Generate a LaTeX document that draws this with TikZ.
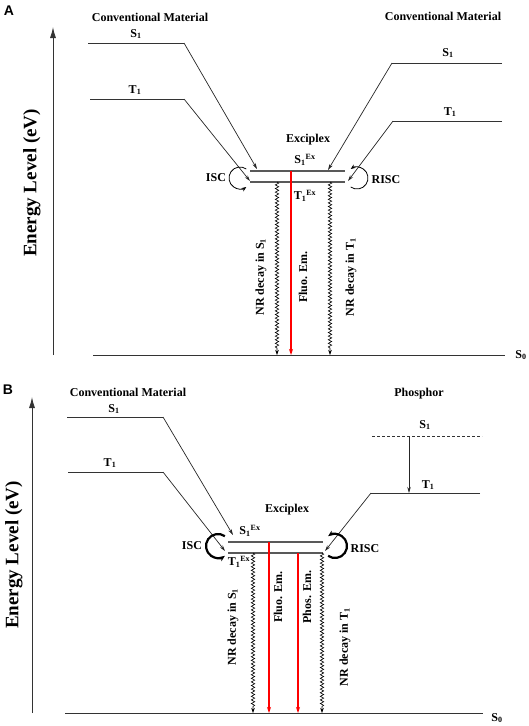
\documentclass[tikz,border=0pt]{standalone}
\usepackage{fontspec}
\setmainfont{Liberation Serif}
\newfontfamily\panelfont{Liberation Sans}
\usetikzlibrary{arrows.meta,decorations.pathmorphing}

\begin{document}
\begin{tikzpicture}[x=1pt,y=-1pt,
  level/.style={draw=black!80,line width=0.8pt},
  trans/.style={draw=black!85,line width=0.7pt,-{Stealth[length=6pt,width=3.5pt]}},
  bar/.style={draw=black!65,line width=1.4pt},
  loopthin/.style={line width=0.8pt,-{Stealth[length=5pt,width=4pt]}},
  loopthick/.style={line width=2.2pt,-{Stealth[length=6pt,width=5pt]}},
  nrdecay/.style={line width=0.6pt,-{Stealth[length=5pt,width=3.5pt]},decorate,
    decoration={snake,amplitude=1.7pt,segment length=3.6pt,post length=6pt}},
  emit/.style={red,line width=1.2pt,-{Stealth[length=6pt,width=4pt]}},
  axis/.style={draw=black!80,line width=0.9pt,-{Latex[length=11pt,width=6pt]}},
  lab/.style={font=\fontsize{12}{14}\selectfont\bfseries,inner sep=0pt},
  vlab/.style={lab,rotate=90},
  ylab/.style={font=\fontsize{19}{22}\selectfont\bfseries,rotate=90,inner sep=0pt},
  panel/.style={font=\panelfont\fontsize{14}{16}\selectfont\bfseries,inner sep=0pt}]
\useasboundingbox (0,0) rectangle (529,726);

% ---- panel A ----
\node[panel] (tagA) at (9,11) {A};
\node[lab] (convAl) at (150,17) {Conventional Material};
\node[lab] (convAr) at (443,16) {Conventional Material};
\node[ylab] (yA) at (32,183) {Energy Level (eV)};
\path (53,355) coordinate (axA0) (53,27) coordinate (axA1);
\draw[axis] (axA0) -- (axA1);
\path (93,355) coordinate (gsA0) (505,355) coordinate (gsA1);
\draw[level] (gsA0) -- (gsA1);
\node[lab] (gsAlab) at (521,355) {S\textsubscript{0}};

% left material
\path (88,43) coordinate (sAl0) (184,43) coordinate (sAl1) (257,169) coordinate (sAl2);
\path (90,99) coordinate (tAl0) (184,99) coordinate (tAl1) (250,181) coordinate (tAl2);
\draw[level] (sAl0) -- (sAl1);
\draw[trans] (sAl1) -- (sAl2);
\draw[level] (tAl0) -- (tAl1);
\draw[trans] (tAl1) -- (tAl2);
\node[lab] (sAllab) at (136,34) {S\textsubscript{1}};
\node[lab] (tAllab) at (135,90) {T\textsubscript{1}};

% right material
\path (502,63) coordinate (sAr0) (392,63) coordinate (sAr1) (328,170) coordinate (sAr2);
\path (502,121) coordinate (tAr0) (393,121) coordinate (tAr1) (348,181) coordinate (tAr2);
\draw[level] (sAr0) -- (sAr1);
\draw[trans] (sAr1) -- (sAr2);
\draw[level] (tAr0) -- (tAr1);
\draw[trans] (tAr1) -- (tAr2);
\node[lab] (sArlab) at (448,53) {S\textsubscript{1}};
\node[lab] (tArlab) at (450,112) {T\textsubscript{1}};

% exciplex
\path (250,171) coordinate (exAs0) (345,171) coordinate (exAs1);
\path (250,182) coordinate (exAt0) (345,182) coordinate (exAt1);
\draw[bar] (exAs0) -- (exAs1);
\draw[bar] (exAt0) -- (exAt1);
\node[lab] (exAlab) at (308,140) {Exciplex};
\node[lab] (exAslab) at (305,160) {S\textsubscript{1}\textsuperscript{Ex}};
\node[lab] (exAtlab) at (305,196) {T\textsubscript{1}\textsuperscript{Ex}};
\coordinate (iscA) at (240,178);
\coordinate (riscA) at (357,178);
\draw[loopthin] (iscA) ++(-55:11) arc[start angle=-55,end angle=-305,radius=11];
\draw[loopthin] (riscA) ++(-235:11) arc[start angle=-235,end angle=-485,radius=11];
\node[lab] (iscAlab) at (216,178) {ISC};
\node[lab] (riscAlab) at (386,180) {RISC};

% decay channels
\path (277,182) coordinate (nrsA0) (277,355) coordinate (nrsA1);
\path (291,171) coordinate (flA0) (291,355) coordinate (flA1);
\path (330,182) coordinate (nrtA0) (330,355) coordinate (nrtA1);
\draw[nrdecay] (nrsA0) -- (nrsA1);
\draw[emit] (flA0) -- (flA1);
\draw[nrdecay] (nrtA0) -- (nrtA1);
\node[vlab] (nrsAlab) at (261,277) {NR decay in S\textsubscript{1}};
\node[vlab] (flAlab) at (303,277) {Fluo. Em.};
\node[vlab] (nrtAlab) at (351,277) {NR decay in T\textsubscript{1}};

% ---- panel B ----
\node[panel] (tagB) at (8,390) {B};
\node[lab] (convBl) at (128,392) {Conventional Material};
\node[lab] (phosB) at (419,394) {Phosphor};
\node[ylab] (yB) at (14,555) {Energy Level (eV)};
\path (32,713) coordinate (axB0) (32,397) coordinate (axB1);
\draw[axis] (axB0) -- (axB1);
\path (65,713) coordinate (gsB0) (483,713) coordinate (gsB1);
\draw[level] (gsB0) -- (gsB1);
\node[lab] (gsBlab) at (497,718) {S\textsubscript{0}};

% left material
\path (67,417) coordinate (sBl0) (163,417) coordinate (sBl1) (233,535) coordinate (sBl2);
\path (68,472) coordinate (tBl0) (163,472) coordinate (tBl1) (225,551) coordinate (tBl2);
\draw[level] (sBl0) -- (sBl1);
\draw[trans] (sBl1) -- (sBl2);
\draw[level] (tBl0) -- (tBl1);
\draw[trans] (tBl1) -- (tBl2);
\node[lab] (sBllab) at (114,409) {S\textsubscript{1}};
\node[lab] (tBllab) at (110,463) {T\textsubscript{1}};

% phosphor
\path (372,436) coordinate (sBr0) (482,436) coordinate (sBr1) (409,436) coordinate (icB0);
\path (480,493) coordinate (tBr0) (371,493) coordinate (tBr1) (325,551) coordinate (tBr2)
      (409,493) coordinate (icB1);
\draw[level,dash pattern=on 3pt off 2pt] (sBr0) -- (sBr1);
\draw[trans] (icB0) -- (icB1);
\draw[level] (tBr0) -- (tBr1);
\draw[trans] (tBr1) -- (tBr2);
\node[lab] (sBrlab) at (425,425) {S\textsubscript{1}};
\node[lab] (tBrlab) at (428,485) {T\textsubscript{1}};

% exciplex
\path (228,542) coordinate (exBs0) (323,542) coordinate (exBs1);
\path (228,553) coordinate (exBt0) (323,553) coordinate (exBt1);
\draw[bar] (exBs0) -- (exBs1);
\draw[bar] (exBt0) -- (exBt1);
\node[lab] (exBlab) at (287,510) {Exciplex};
\node[lab] (exBslab) at (250,531) {S\textsubscript{1}\textsuperscript{Ex}};
\node[lab] (exBtlab) at (239,562) {T\textsubscript{1}\textsuperscript{Ex}};
\coordinate (iscB) at (218,546);
\coordinate (riscB) at (335,546);
\draw[loopthick] (iscB) ++(-55:12) arc[start angle=-55,end angle=-305,radius=12];
\draw[loopthick] (riscB) ++(-235:12) arc[start angle=-235,end angle=-485,radius=12];
\node[lab] (iscBlab) at (192,546) {ISC};
\node[lab] (riscBlab) at (365,549) {RISC};

% decay channels
\path (253,553) coordinate (nrsB0) (253,713) coordinate (nrsB1);
\path (269,542) coordinate (flB0) (269,713) coordinate (flB1);
\path (298,553) coordinate (phB0) (298,713) coordinate (phB1);
\path (322,553) coordinate (nrtB0) (322,713) coordinate (nrtB1);
\draw[nrdecay] (nrsB0) -- (nrsB1);
\draw[emit] (flB0) -- (flB1);
\draw[emit] (phB0) -- (phB1);
\draw[nrdecay] (nrtB0) -- (nrtB1);
\node[vlab] (nrsBlab) at (233,627) {NR decay in S\textsubscript{1}};
\node[vlab] (flBlab) at (278,597) {Fluo. Em.};
\node[vlab] (phBlab) at (307,597) {Phos. Em.};
\node[vlab] (nrtBlab) at (345,647) {NR decay in T\textsubscript{1}};
\end{tikzpicture}
\end{document}
